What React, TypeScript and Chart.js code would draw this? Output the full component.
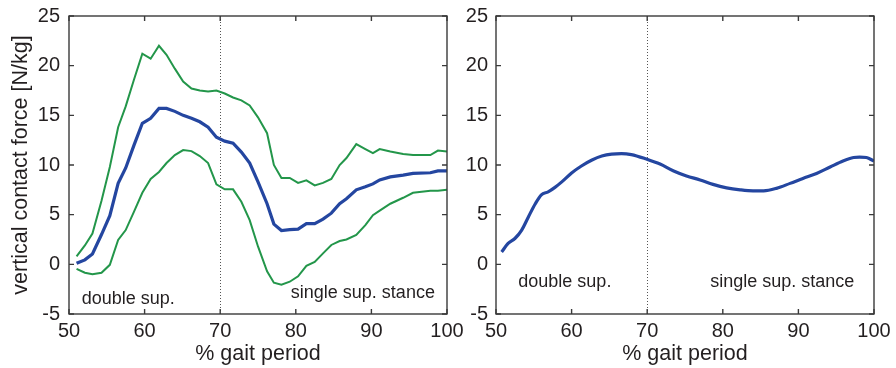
import React, { useEffect, useRef } from 'react';
import { Chart, registerables } from 'chart.js';

Chart.register(...registerables);

// ---------- data ----------
const leftX = [51, 52.1, 53.1, 54.3, 55.4, 56.5, 57.5, 58.6, 59.7, 60.8, 61.9, 62.9, 64.0, 65.1, 66.2, 67.3, 68.4, 69.5, 70.6, 71.7, 72.8, 73.9, 75.0, 76.2, 77.1, 78.1, 79.2, 80.3, 81.4, 82.5, 83.6, 84.7, 85.8, 86.7, 88.0, 89.2, 90.2, 91.1, 92.5, 94.2, 95.5, 97.8, 98.8, 100];
const leftUpper = [0.8, 1.9, 3.1, 6.4, 9.8, 13.8, 15.9, 18.6, 21.2, 20.7, 22.0, 21.1, 19.7, 18.4, 17.7, 17.5, 17.4, 17.5, 17.2, 16.8, 16.5, 16.0, 14.8, 13.2, 10.0, 8.7, 8.7, 8.2, 8.45, 7.95, 8.2, 8.6, 10.0, 10.7, 12.1, 11.6, 11.2, 11.6, 11.35, 11.1, 11.0, 11.0, 11.45, 11.35];
const leftMean = [0.1, 0.45, 1.05, 3.0, 4.9, 8.15, 9.7, 12.0, 14.2, 14.7, 15.7, 15.7, 15.4, 15.0, 14.7, 14.35, 13.8, 12.8, 12.4, 12.2, 11.3, 10.2, 8.3, 6.1, 4.05, 3.4, 3.5, 3.55, 4.1, 4.1, 4.55, 5.15, 6.1, 6.6, 7.5, 7.8, 8.1, 8.5, 8.8, 8.98, 9.15, 9.22, 9.4, 9.4];
const leftLower = [-0.45, -0.85, -1.0, -0.85, -0.05, 2.45, 3.45, 5.3, 7.2, 8.6, 9.3, 10.2, 11.0, 11.5, 11.4, 10.9, 10.2, 8.05, 7.55, 7.55, 6.3, 4.45, 1.8, -0.7, -1.85, -2.05, -1.75, -1.2, -0.15, 0.25, 1.1, 1.95, 2.35, 2.5, 2.95, 3.95, 4.95, 5.4, 6.1, 6.7, 7.2, 7.4, 7.4, 7.5];

const rightX = [50.75, 51.6, 52.5, 53.4, 54.3, 55.2, 56.0, 56.9, 57.8, 58.7, 60.0, 61.3, 62.7, 64.0, 65.3, 66.6, 67.9, 69.9, 71.7, 73.5, 75.2, 77.0, 78.7, 80.5, 82.3, 84.0, 85.4, 87.1, 88.9, 90.6, 92.4, 94.2, 95.9, 97.3, 98.1, 99.0, 100];
const rightMean = [1.25, 2.1, 2.6, 3.45, 4.8, 6.1, 7.0, 7.3, 7.75, 8.3, 9.2, 9.9, 10.5, 10.9, 11.1, 11.15, 11.05, 10.6, 10.1, 9.4, 8.9, 8.5, 8.05, 7.7, 7.5, 7.4, 7.4, 7.65, 8.15, 8.65, 9.15, 9.8, 10.4, 10.75, 10.8, 10.75, 10.4];

const xMin = 50, xMax = 100, xStep = 10;
const yMin = -5, yMax = 25, yStep = 5;
const phaseBoundary = 70;
const xTitle = '% gait period';
const yTitle = 'vertical contact force [N/kg]';
const labelDouble = 'double sup.';
const labelSingle = 'single sup. stance';

// ---------- style ----------
const FONT = '"Liberation Sans", Arial, Helvetica, sans-serif';
const TEXT = '#231f20';
const AXIS = '#3a3a3a';
const GREEN = '#23964a';
const BLUE = '#2446a0';

const pts = (xs: number[], ys: number[]) => xs.map((x, i) => ({ x, y: ys[i] }));

const framePlugin = {
  id: 'frame',
  beforeDatasetsDraw(chart: any, _args: any, opts: any) {
    const { ctx, chartArea: a, scales } = chart;
    const px = Math.round(scales.x.getPixelForValue(opts.divider)) + 0.5;
    ctx.save();
    ctx.strokeStyle = '#555';
    ctx.lineWidth = 1;
    ctx.setLineDash([1, 2]);
    ctx.beginPath();
    ctx.moveTo(px, a.top);
    ctx.lineTo(px, a.bottom);
    ctx.stroke();
    ctx.restore();
  },
  afterDatasetsDraw(chart: any, _args: any, opts: any) {
    const { ctx, chartArea: a, scales } = chart;
    const { x, y } = scales;
    ctx.save();
    ctx.strokeStyle = AXIS;
    ctx.lineWidth = 1.4;
    ctx.strokeRect(a.left, a.top, a.right - a.left, a.bottom - a.top);
    const tl = 5;
    ctx.beginPath();
    x.ticks.forEach((t: any) => {
      const p = x.getPixelForValue(t.value);
      ctx.moveTo(p, a.top);
      ctx.lineTo(p, a.top + tl);
      ctx.moveTo(p, a.bottom);
      ctx.lineTo(p, a.bottom - tl);
    });
    y.ticks.forEach((t: any) => {
      const p = y.getPixelForValue(t.value);
      ctx.moveTo(a.left, p);
      ctx.lineTo(a.left + tl, p);
      ctx.moveTo(a.right, p);
      ctx.lineTo(a.right - tl, p);
    });
    ctx.stroke();
    ctx.fillStyle = TEXT;
    ctx.font = `18px ${FONT}`;
    ctx.textBaseline = 'alphabetic';
    (opts.notes || []).forEach((n: any) => {
      ctx.textAlign = n.align;
      ctx.fillText(n.text, x.getPixelForValue(n.x), y.getPixelForValue(n.y));
    });
    ctx.restore();
  },
};

function makeOptions(showYTitle: boolean, yAxisWidth: number, padRight: number, yPad: number, notes: any[]) {
  return {
    animation: false,
    responsive: false,
    maintainAspectRatio: false,
    layout: { padding: { top: 16, right: padRight, bottom: 0, left: 0 } },
    plugins: {
      legend: { display: false },
      tooltip: { enabled: false },
      frame: { divider: phaseBoundary, notes },
    },
    elements: { point: { radius: 0 } },
    scales: {
      x: {
        type: 'linear',
        min: xMin,
        max: xMax,
        ticks: { stepSize: xStep, font: { size: 20, family: FONT }, color: TEXT, padding: 5, maxRotation: 0, autoSkip: false },
        grid: { display: false, drawTicks: false },
        border: { display: false },
        title: { display: true, text: xTitle, font: { size: 21.5, family: FONT }, color: TEXT, padding: { top: 0, bottom: 1 } },
        afterFit: (s: any) => { s.height = 54; s.paddingLeft = 0; s.paddingRight = 0; },
      },
      y: {
        type: 'linear',
        min: yMin,
        max: yMax,
        ticks: { stepSize: yStep, font: { size: 20, family: FONT }, color: TEXT, padding: yPad },
        grid: { display: false, drawTicks: false },
        border: { display: false },
        title: { display: showYTitle, text: yTitle, font: { size: 21.5, family: FONT }, color: TEXT, padding: { top: 8, bottom: 0 } },
        afterFit: (s: any) => { s.width = yAxisWidth; s.paddingTop = 0; s.paddingBottom = 0; },
      },
    },
  };
}

function Panel(props: { left: number; width: number; z: number; build: () => any }) {
  const ref = useRef<HTMLCanvasElement | null>(null);
  useEffect(() => {
    if (!ref.current) return;
    const chart = new Chart(ref.current, props.build());
    return () => chart.destroy();
  }, []);
  return (
    <canvas
      ref={ref}
      width={props.width}
      height={368}
      style={{ position: 'absolute', left: props.left, top: 0, width: props.width, height: 368, display: 'block', zIndex: props.z }}
    />
  );
}

export default function App() {
  const buildLeft = () => ({
    type: 'line',
    data: {
      datasets: [
        { data: pts(leftX, leftUpper), borderColor: GREEN, borderWidth: 2, tension: 0, fill: false },
        { data: pts(leftX, leftLower), borderColor: GREEN, borderWidth: 2, tension: 0, fill: false },
        { data: pts(leftX, leftMean), borderColor: BLUE, borderWidth: 3.2, tension: 0, fill: false },
      ],
    },
    options: makeOptions(true, 69, 18, 9, [
      { text: labelDouble, x: 51.68, y: -4.0, align: 'left' },
      { text: labelSingle, x: 98.4, y: -3.42, align: 'right' },
    ]),
    plugins: [framePlugin],
  });
  const buildRight = () => ({
    type: 'line',
    data: {
      datasets: [
        { data: pts(rightX, rightMean), borderColor: BLUE, borderWidth: 3.2, tension: 0.4, cubicInterpolationMode: 'monotone', fill: false },
      ],
    },
    options: makeOptions(false, 31, 22, 8, [
      { text: labelDouble, x: 52.95, y: -2.31, align: 'left' },
      { text: labelSingle, x: 97.4, y: -2.31, align: 'right' },
    ]),
    plugins: [framePlugin],
  });
  return (
    <div style={{ position: 'absolute', left: 0, top: 0, width: 896, height: 368, background: '#fff', overflow: 'visible' }}>
      <Panel left={465} width={431} z={1} build={buildRight} />
      <Panel left={0} width={465} z={2} build={buildLeft} />
    </div>
  );
}
